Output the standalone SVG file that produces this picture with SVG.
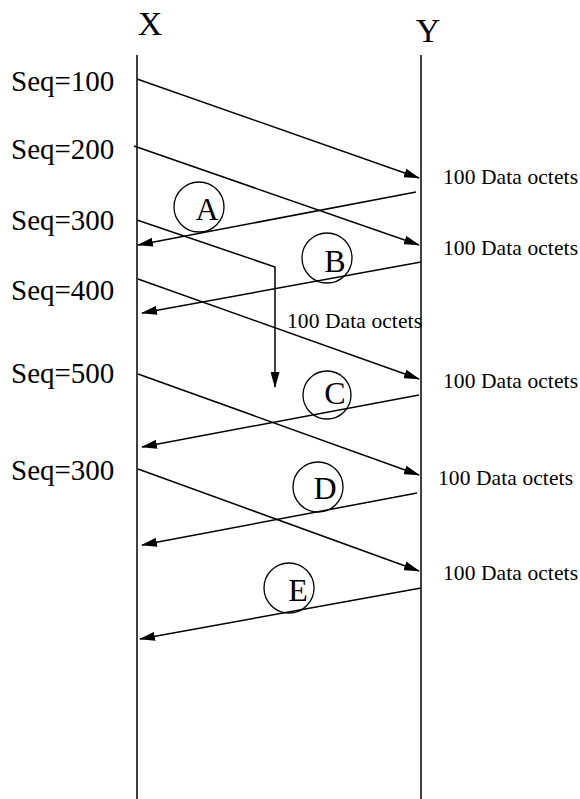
<svg xmlns="http://www.w3.org/2000/svg" width="580" height="799" viewBox="0 0 580 799">
<style>
.ln{stroke:#000;stroke-width:1.5;fill:none}
.ar{stroke:#000;stroke-width:1.5;fill:none;marker-end:url(#ah)}
text{font-family:"Liberation Serif","Times New Roman",serif;fill:#000}
.seq{font-size:29px}
.hd{font-size:34px}
.oct{font-size:21.5px}
.lt{font-size:32px;text-anchor:middle}
.c{stroke:#000;stroke-width:1.3;fill:none}
</style>
<defs>
<marker id="ah" markerWidth="16" markerHeight="9" refX="15" refY="4.5" orient="auto" markerUnits="userSpaceOnUse">
<path d="M0,0 L16,4.5 L0,9 z" fill="#000"/>
</marker>
</defs>
<rect width="580" height="799" fill="#fff"/>
<g id="hostX" font-family="Liberation Serif, serif">
<line class="ln" x1="137" y1="55" x2="137" y2="799"/>
<text class="hd" x="150" y="35" text-anchor="middle">X</text>
</g>
<g id="hostY" font-family="Liberation Serif, serif">
<line class="ln" x1="421" y1="55" x2="421" y2="799"/>
<text class="hd" x="428" y="42" text-anchor="middle">Y</text>
</g>
<g id="seqLabels" font-family="Liberation Serif, serif">
<text class="seq" x="11" y="91">Seq=100</text>
<text class="seq" x="11" y="159">Seq=200</text>
<text class="seq" x="11" y="230">Seq=300</text>
<text class="seq" x="11" y="300">Seq=400</text>
<text class="seq" x="11" y="383">Seq=500</text>
<text class="seq" x="11" y="480">Seq=300</text>
</g>
<g id="octetLabels" font-family="Liberation Serif, serif">
<text class="oct" x="443" y="184" textLength="135">100 Data octets</text>
<text class="oct" x="443" y="255" textLength="135">100 Data octets</text>
<text class="oct" x="287" y="328" textLength="135">100 Data octets</text>
<text class="oct" x="443" y="388" textLength="135">100 Data octets</text>
<text class="oct" x="438" y="485" textLength="135">100 Data octets</text>
<text class="oct" x="443" y="580" textLength="135">100 Data octets</text>
</g>
<g id="connectors">
<line class="ar" x1="137" y1="79" x2="419" y2="178"/>
<line class="ar" x1="134" y1="146" x2="419" y2="245"/>
<polyline class="ar" points="137,220 275,267 275,387"/>
<line class="ar" x1="138" y1="279" x2="419" y2="379"/>
<line class="ar" x1="138" y1="374" x2="419" y2="475"/>
<line class="ar" x1="138" y1="469" x2="419" y2="571"/>
<line class="ar" x1="416" y1="192" x2="138" y2="245"/>
<line class="ar" x1="421" y1="262" x2="142" y2="313"/>
<line class="ar" x1="419" y1="395" x2="142" y2="447"/>
<line class="ar" x1="417" y1="493" x2="142" y2="545"/>
<line class="ar" x1="421" y1="588" x2="140" y2="639"/>
</g>
<g id="A" font-family="Liberation Serif, serif"><circle class="c" cx="199" cy="207" r="25"/><text class="lt" x="207" y="220">A</text></g>
<g id="B" font-family="Liberation Serif, serif"><circle class="c" cx="327" cy="258" r="25"/><text class="lt" x="335" y="272">B</text></g>
<g id="C" font-family="Liberation Serif, serif"><circle class="c" cx="327" cy="395" r="24"/><text class="lt" x="335" y="404">C</text></g>
<g id="D" font-family="Liberation Serif, serif"><circle class="c" cx="318" cy="487" r="25"/><text class="lt" x="325" y="499">D</text></g>
<g id="E" font-family="Liberation Serif, serif"><circle class="c" cx="289" cy="588" r="25"/><text class="lt" x="298" y="601">E</text></g>
</svg>
